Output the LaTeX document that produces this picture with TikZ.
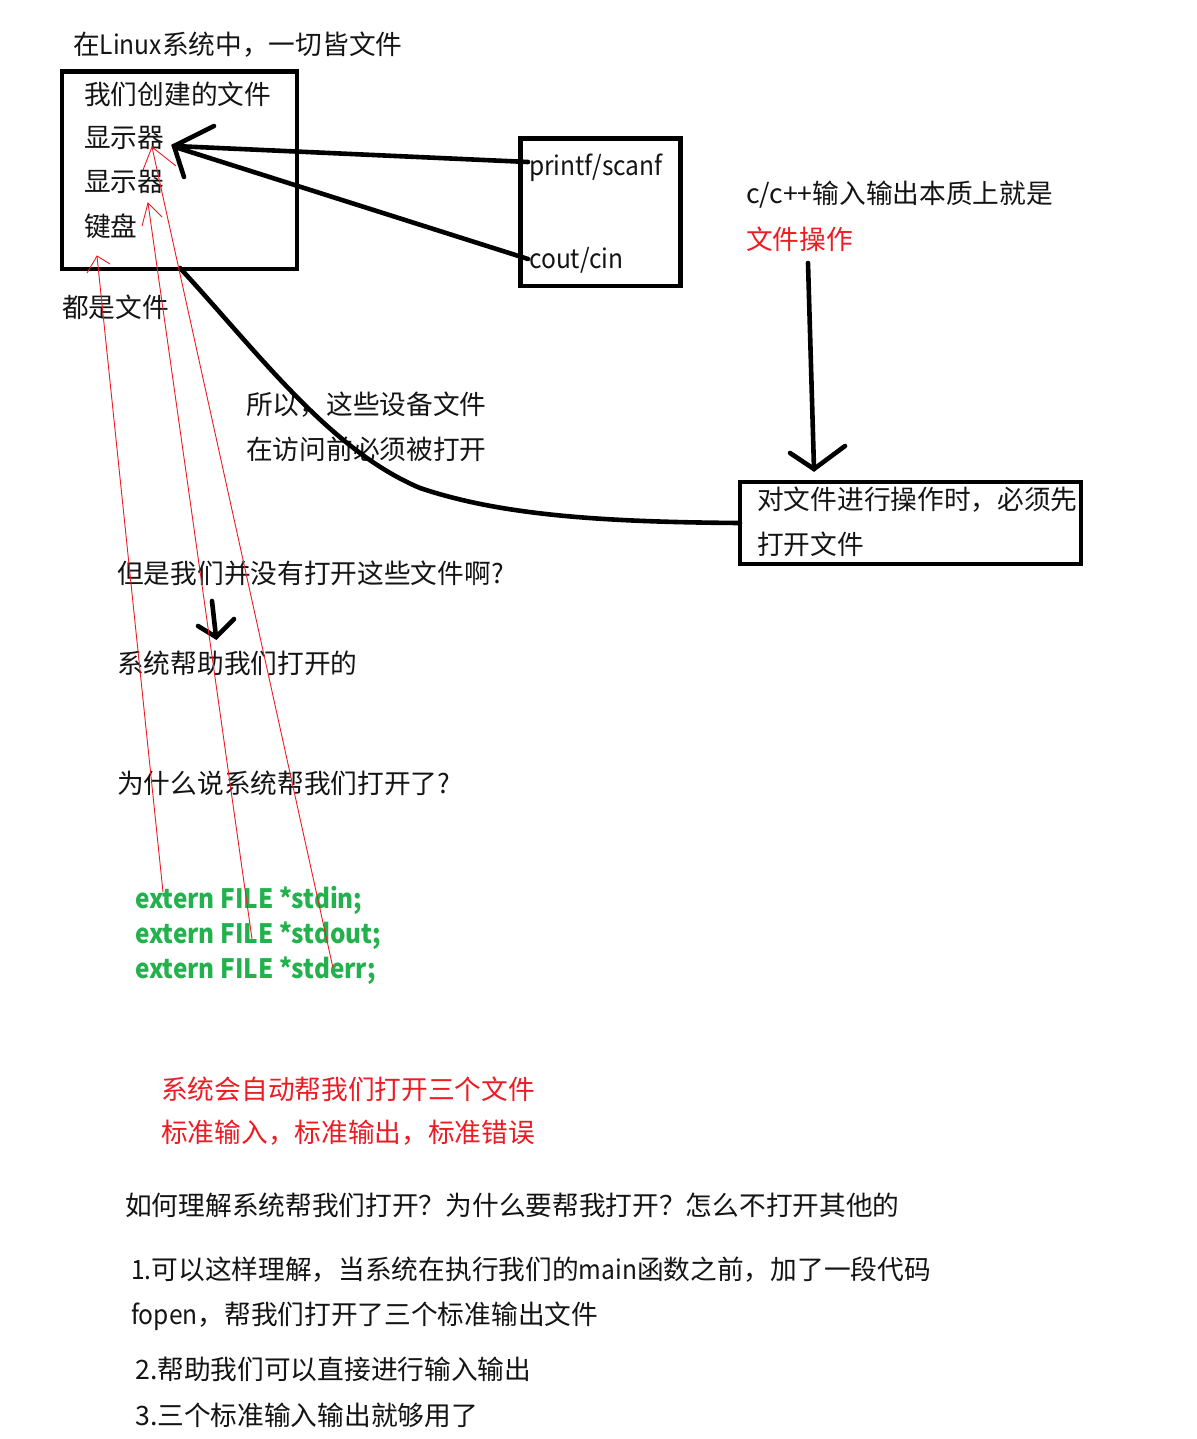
\documentclass[tikz,border=0pt]{standalone}
\usepackage{fontspec}
\setmainfont{Noto Sans CJK SC}
\newfontfamily\nar[FakeStretch=0.92]{Noto Sans CJK SC}
\newfontfamily\narb[FakeStretch=0.91]{Noto Sans CJK SC}
\definecolor{pRed}{RGB}{237,28,36}
\definecolor{pGreen}{RGB}{34,177,76}
\definecolor{pText}{RGB}{20,20,20}
\begin{document}
\begin{tikzpicture}[x=1pt,y=-1pt,
  txt/.style={anchor=west,inner sep=0pt,text=pText,font=\fontsize{26.7}{32}\selectfont},
  redtxt/.style={txt,text=pRed},
  greentxt/.style={anchor=west,inner sep=0pt,text=pGreen,font=\fontsize{26.7}{32}\selectfont\narb\bfseries},
  boxline/.style={draw=black,line width=4.6pt,outer sep=0pt,inner sep=0pt},
  blk/.style={draw=black,line width=4.6pt,line cap=round},
  redl/.style={draw=pRed,line width=0.9pt}]
\useasboundingbox (0,0) rectangle (1196,1439);
\fill[white] (0,0) rectangle (1196,1439);

% boxes
\node[boxline,anchor=north west,minimum width=235pt,minimum height=197.5pt] (b1) at (62,71.5) {};
\node[boxline,anchor=north west,minimum width=160pt,minimum height=147.5pt] (b2) at (520.5,138.5) {};
\node[boxline,anchor=north west,minimum width=341pt,minimum height=82pt] (b3) at (740,482) {};

% texts
\node[txt] (title) at (73,45) {在{\nar Linux}系统中，一切皆文件};
\node[txt] (t1) at (84,94) {我们创建的文件};
\node[txt] (t2) at (84,138) {显示器};
\node[txt] (t3) at (84,182) {显示器};
\node[txt] (t4) at (84,226) {键盘};
\node[txt] (t5) at (62,307) {都是文件};
\node[txt] (pf) at (529,168) {\nar printf/scanf};
\node[txt] (cc) at (529,260) {\nar cout/cin};
\node[txt] (cpp) at (746,195) {c/c++输入输出本质上就是};
\node[redtxt] (fo) at (746,239) {文件操作};
\node[txt] (b3a) at (757,500) {对文件进行操作时，必须先};
\node[txt] (b3b) at (757,544) {打开文件};
\node[txt] (so1) at (246,405) {所以，这些设备文件};
\node[txt] (so2) at (246,449) {在访问前必须被打开};
\node[txt] (q1) at (117,573) {但是我们并没有打开这些文件啊?};
\node[txt] (a1) at (117,663) {系统帮助我们打开的};
\node[txt] (q2) at (117,783) {为什么说系统帮我们打开了?};
\node[greentxt] (g1) at (135,900) {extern FILE *stdin;};
\node[greentxt] (g2) at (135,936) {extern FILE *stdout;};
\node[greentxt] (g3) at (135,971) {extern FILE *stderr;};
\node[redtxt] (r1) at (161,1089) {系统会自动帮我们打开三个文件};
\node[redtxt] (r2) at (161,1133) {标准输入，标准输出，标准错误};
\node[txt] (h1) at (125,1205) {如何理解系统帮我们打开？为什么要帮我打开？怎么不打开其他的};
\node[txt] (h2) at (131,1270) {{\nar 1.}可以这样理解，当系统在执行我们的{\nar main}函数之前，加了一段代码};
\node[txt] (h3) at (131,1316) {{\nar fopen}，帮我们打开了三个标准输出文件};
\node[txt] (h4) at (135,1369) {2.帮助我们可以直接进行输入输出};
\node[txt] (h5) at (135,1415) {3.三个标准输入输出就够用了};

% coordinates
\coordinate (tip) at (174,146);
\coordinate (tipA) at (214,126);
\coordinate (tipB) at (184,177);
\coordinate (pfe) at (528,162);
\coordinate (cce) at (528,259);
\coordinate (dtop) at (808,263);
\coordinate (dtip) at (814,469);
\coordinate (dA) at (790,453);
\coordinate (dB) at (845,446);
\coordinate (cs) at (180,268);
\coordinate (ce) at (740,523);
\coordinate (stop) at (212,601);
\coordinate (stip) at (216,637);
\coordinate (sA) at (198,626);
\coordinate (sB) at (234,619);

% black connectors
\draw[blk] (pfe) -- (tip);
\draw[blk] (cce) -- (178,148);
\draw[blk] (tipA) -- (tip) -- (tipB);
\draw[blk] (dtop) -- (dtip);
\draw[blk] (dA) -- (dtip) -- (dB);
\draw[blk] (cs) .. controls (260,355) and (330,450) .. (420,488) .. controls (500,515) and (600,522) .. (ce);
\draw[blk] (stop) -- (stip);
\draw[blk] (sA) -- (stip) -- (sB);

% red connectors
\coordinate (ra) at (97,256);
\coordinate (rb) at (148,203);
\coordinate (rc) at (152,147);
\draw[redl] (163,892) -- (ra);
\draw[redl] (87,273) -- (ra) -- (110,264);
\draw[redl] (252,939) -- (rb);
\draw[redl] (142,226) -- (rb) -- (162,217);
\draw[redl] (333,968) -- (rc);
\draw[redl] (143,170) -- (rc) -- (176,166);
\end{tikzpicture}
\end{document}
